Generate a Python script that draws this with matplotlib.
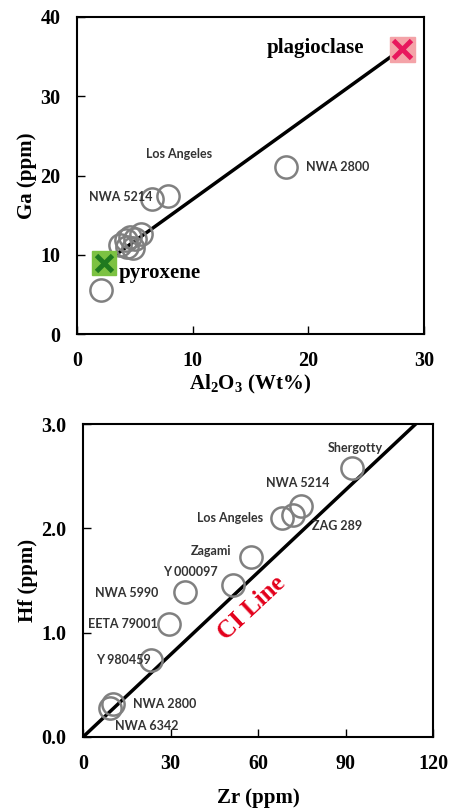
import matplotlib.pyplot as plt

# --- top panel: Ga vs Al2O3 ---
al2o3 = [18.1, 7.9, 6.5, 3.7, 4.2, 4.6, 5.0, 5.5, 4.8, 4.3, 2.1]
ga = [21.1, 17.4, 17.0, 11.2, 11.8, 12.3, 12.0, 12.6, 10.8, 11.0, 5.5]
top_labels = {"NWA 2800": (19.8, 21.1, "left"),
              "Los Angeles": (8.8, 22.7, "center"),
              "NWA 5214": (1.0, 17.3, "left")}
pyroxene = (2.3, 8.9)
plagioclase = (28.1, 36.0)

# --- bottom panel: Hf vs Zr ---
zr = [92.1, 74.7, 72.1, 68.1, 57.5, 51.5, 35.0, 29.6, 23.2, 10.2, 9.3]
hf = [2.58, 2.21, 2.13, 2.10, 1.73, 1.46, 1.39, 1.08, 0.74, 0.32, 0.28]
bot_labels = {"Shergotty": (93.3, 2.77, "center"),
              "NWA 5214": (73.8, 2.43, "center"),
              "Los Angeles": (50.4, 2.10, "center"),
              "ZAG 289": (78.4, 2.02, "left"),
              "Zagami": (43.8, 1.78, "center"),
              "Y 000097": (36.7, 1.58, "center"),
              "NWA 5990": (15.0, 1.38, "center"),
              "EETA 79001": (13.6, 1.08, "center"),
              "Y 980459": (13.8, 0.74, "center"),
              "NWA 2800": (28.1, 0.32, "center"),
              "NWA 6342": (21.8, 0.105, "center")}
ci_slope = 0.0263

serif = {"family": "Liberation Serif", "weight": "bold"}
lab_font = {"family": "Lato", "weight": "bold", "size": 9, "color": "#333333"}
circ = dict(marker="o", ms=16, mfc="none", mec="#808080", mew=1.8, ls="none")

fig = plt.figure(figsize=(4.49, 8.08), dpi=100)


def style(ax):
    for s in ax.spines.values():
        s.set_linewidth(1.5)
    ax.tick_params(direction="in", length=6, width=1, top=False, right=False, pad=12)
    for t in ax.get_xticklabels() + ax.get_yticklabels():
        t.set_fontfamily("Liberation Serif")
        t.set_fontweight("bold")
        t.set_fontsize(14.5)


ax1 = fig.add_axes([77 / 449, (808 - 334) / 808, 347 / 449, 317 / 808])
ax1.plot([pyroxene[0], plagioclase[0]], [pyroxene[1], plagioclase[1]], color="black", lw=2.5, zorder=2)
ax1.plot(al2o3, ga, zorder=3, **circ)
ax1.plot(*plagioclase, marker="s", ms=18, color="#f4a3a8", ls="none", zorder=4)
ax1.plot(*plagioclase, marker="x", ms=13, mew=3.5, color="#e8175d", ls="none", zorder=5)
ax1.plot(*pyroxene, marker="s", ms=17, color="#7cc242", ls="none", zorder=4)
ax1.plot(*pyroxene, marker="x", ms=12, mew=3.5, color="#1f7a1f", ls="none", zorder=5)
for name, (x, y, ha) in top_labels.items():
    ax1.text(x, y, name, ha=ha, va="center", **lab_font)
ax1.text(20.6, 36.1, "plagioclase", ha="center", va="center", fontsize=15, **serif)
ax1.text(3.6, 7.7, "pyroxene", ha="left", va="center", fontsize=15, **serif)
ax1.set_xlim(0, 30)
ax1.set_ylim(0, 40)
ax1.set_xticks([0, 10, 20, 30])
ax1.set_yticks([0, 10, 20, 30, 40])
style(ax1)
ax1.set_xlabel("Al$_\\mathregular{2}$O$_\\mathregular{3}$ (Wt%)", fontsize=15, labelpad=2, **serif)
ax1.set_ylabel("Ga (ppm)", fontsize=15, labelpad=2, **serif)

ax2 = fig.add_axes([83 / 449, (808 - 737) / 808, 350 / 449, 313 / 808])
ax2.plot([0, 120], [0, 120 * ci_slope], color="black", lw=2.5, zorder=2)
ax2.plot(zr, hf, zorder=3, **circ)
for name, (x, y, ha) in bot_labels.items():
    ax2.text(x, y, name, ha=ha, va="center", **lab_font)
ax2.text(57.8, 1.24, "CI Line", color="#e3001b", ha="center", va="center", rotation=43,
         fontsize=18, **serif)
ax2.set_xlim(0, 120)
ax2.set_ylim(0, 3)
ax2.set_xticks([0, 30, 60, 90, 120])
ax2.set_yticks([0, 1, 2, 3])
ax2.set_yticklabels(["0.0", "1.0", "2.0", "3.0"])
style(ax2)
ax2.set_xlabel("Zr (ppm)", fontsize=15, labelpad=10, **serif)
ax2.set_ylabel("Hf (ppm)", fontsize=15, labelpad=2, **serif)

fig.savefig("out.png", dpi=100)
